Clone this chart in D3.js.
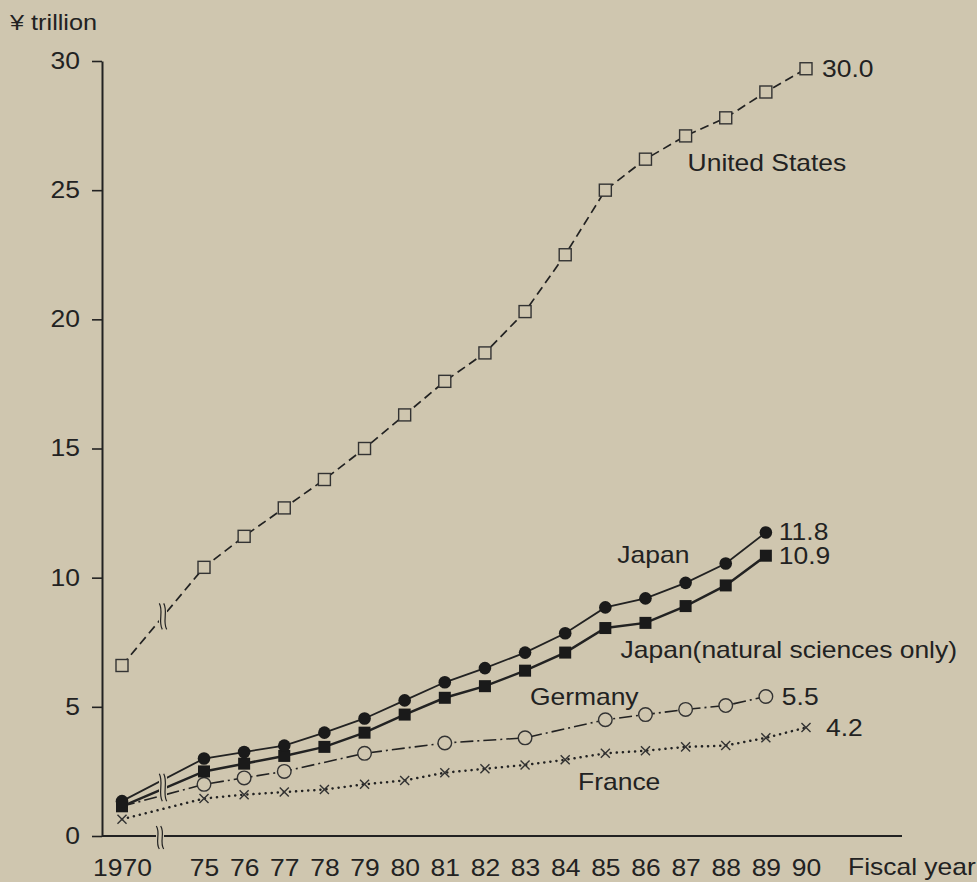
<!DOCTYPE html>
<html>
<head>
<meta charset="utf-8">
<script src="https://cdn.jsdelivr.net/npm/d3@7"></script>
<style>
  html, body { margin: 0; padding: 0; background: #d0c7b0; }
  svg { display: block; }
  text { font-family: "Liberation Sans", Arial, sans-serif; fill: #222; }
</style>
</head>
<body>
<svg id="chart" width="977" height="882"></svg>
<script>
// ---------------- data ----------------
const years = [1970, 1975, 1976, 1977, 1978, 1979, 1980, 1981, 1982, 1983, 1984, 1985, 1986, 1987, 1988, 1989, 1990];
const tickLabels = ["1970", "75", "76", "77", "78", "79", "80", "81", "82", "83", "84", "85", "86", "87", "88", "89", "90"];
const yTicks = [0, 5, 10, 15, 20, 25, 30];

const usValues      = [6.6, 10.4, 11.6, 12.7, 13.8, 15.0, 16.3, 17.6, 18.7, 20.3, 22.5, 25.0, 26.2, 27.1, 27.8, 28.8, 29.7];
const japanValues   = [1.35, 3.0, 3.25, 3.5, 4.0, 4.55, 5.25, 5.95, 6.5, 7.1, 7.85, 8.85, 9.2, 9.8, 10.55, 11.75, null];
const japanNSValues = [1.15, 2.5, 2.8, 3.1, 3.45, 4.0, 4.7, 5.35, 5.8, 6.4, 7.1, 8.05, 8.25, 8.9, 9.7, 10.85, null];
const germanyValues = [1.15, 2.0, 2.25, 2.5, null, 3.2, null, 3.6, null, 3.8, null, 4.5, 4.7, 4.9, 5.05, 5.4, null];
const franceValues  = [0.65, 1.45, 1.6, 1.7, 1.8, 2.0, 2.15, 2.45, 2.6, 2.75, 2.95, 3.2, 3.3, 3.45, 3.5, 3.8, 4.2];

const seriesNames = ["United States", "Japan", "Japan(natural sciences only)", "Germany", "France"];
const endLabels   = ["30.0", "11.8", "10.9", "5.5", "4.2"];
// name label anchors in data units [year, value]
const nameAnchors = [[1987.05, 25.75], [1985.3, 10.57], [1985.38, 6.89], [1983.12, 5.07], [1984.32, 1.78]];

// ---------------- setup ----------------
const BG = "#cfc6af";
const INK = "#222";
const SX = 1.15;      // horizontal stretch of the printed type
const FS = 23;

const svg = d3.select("#chart");
svg.append("rect").attr("width", 977).attr("height", 882).attr("fill", BG);

const x = d3.scaleLinear().domain([1970, 1975, 1990]).range([122, 204, 806]);
const y = d3.scaleLinear().domain([0, 30]).range([836, 61]);
const X0 = 102, XEND = 902;

function stretchText(sel) {
  sel.each(function () {
    const t = d3.select(this);
    const tx = +t.attr("x") || 0;
    t.attr("x", tx / SX).attr("transform", `scale(${SX},1)`);
  });
}
function label(txt, px, py, anchor, size) {
  svg.append("text")
    .attr("transform", `translate(${px},${py}) scale(${SX},1)`)
    .attr("text-anchor", anchor || "start")
    .attr("font-size", size || FS)
    .text(txt);
}

// ---------------- axes ----------------
const yAxis = svg.append("g").attr("transform", `translate(${X0},0)`)
  .call(d3.axisLeft(y).tickValues(yTicks).tickSize(10).tickSizeOuter(0).tickPadding(12));
yAxis.select(".domain").attr("stroke", INK).attr("stroke-width", 2);
yAxis.selectAll(".tick line").attr("stroke", INK).attr("stroke-width", 1.6);
yAxis.selectAll(".tick text").attr("font-size", FS).attr("font-family", "Liberation Sans, Arial, sans-serif").attr("fill", INK).call(stretchText);

// x axis baseline (drawn as a path along the zero line)
svg.append("path")
  .attr("d", d3.line()([[X0, y(0)], [XEND, y(0)]]))
  .attr("stroke", INK).attr("stroke-width", 2).attr("fill", "none");

const xAxis = svg.append("g").attr("transform", `translate(0,${y(0)})`)
  .call(d3.axisBottom(x).tickValues(years).tickFormat((d, i) => tickLabels[i]).tickSize(0).tickPadding(24));
xAxis.select(".domain").remove();
xAxis.selectAll(".tick text").attr("font-size", FS).attr("font-family", "Liberation Sans, Arial, sans-serif").attr("fill", INK).call(stretchText);

label("¥ trillion", 10, 30, "start", 22);
label("Fiscal year", 848, 875, "start", FS);

// ---------------- lines ----------------
const line = d3.line().x(d => x(d[0])).y(d => y(d[1]));
function pts(vals) { return years.map((yr, i) => [yr, vals[i]]).filter(d => d[1] != null); }

const styles = [
  { vals: usValues,      dash: "9,5",          w: 1.7, cap: "butt" },
  { vals: japanValues,   dash: null,           w: 1.8, cap: "butt" },
  { vals: japanNSValues, dash: null,           w: 2.5, cap: "butt" },
  { vals: germanyValues, dash: "13,4,2,4",     w: 1.6, cap: "butt" },
  { vals: franceValues,  dash: "0.1,6",        w: 2.5, cap: "round" }
];
styles.forEach(s => {
  svg.append("path").datum(pts(s.vals))
    .attr("d", line).attr("fill", "none")
    .attr("stroke", INK).attr("stroke-width", s.w)
    .attr("stroke-dasharray", s.dash).attr("stroke-linecap", s.cap);
});

// ---------------- break marks ----------------
const BRK = 1972.5;
function squiggle(cx, y0, y1) {
  const h = y1 - y0;
  const g = svg.append("g");
  g.append("rect").attr("x", cx - 4).attr("y", y0).attr("width", 8).attr("height", h).attr("fill", BG);
  [-2.2, 2.2].forEach(off => {
    const p = d3.path();
    p.moveTo(cx + off - 1.5, y0);
    p.bezierCurveTo(cx + off + 3, y0 + h * 0.3, cx + off - 3, y0 + h * 0.7, cx + off + 1.5, y1);
    g.append("path").attr("d", p.toString()).attr("fill", "none").attr("stroke", INK).attr("stroke-width", 1.2);
  });
}
// US line break
const usBrk = (usValues[0] + usValues[1]) / 2;
squiggle(x(BRK), y(usBrk) - 13, y(usBrk) + 13);
// lower group break
const lowTop = (japanValues[0] + japanValues[1]) / 2;
const lowBot = (germanyValues[0] + germanyValues[1]) / 2;
squiggle(x(BRK), y(lowTop) - 6, y(lowBot) + 6);
// axis break
squiggle(x(BRK) - 3, y(0) - 10, y(0) + 13);

// ---------------- markers ----------------
// France: crosses (drawn first, under the 1970 cluster)
const cross = d3.symbol().type(d3.symbolX).size(55);
svg.append("g").selectAll("path").data(pts(franceValues)).join("path")
  .attr("transform", d => `translate(${x(d[0])},${y(d[1])})`)
  .attr("d", cross).attr("fill", "none").attr("stroke", "#333").attr("stroke-width", 1.4);
// US: open squares
svg.append("g").selectAll("rect").data(pts(usValues)).join("rect")
  .attr("x", d => x(d[0]) - 6).attr("y", d => y(d[1]) - 6)
  .attr("width", 12).attr("height", 12)
  .attr("fill", BG).attr("stroke", "#333").attr("stroke-width", 1.4);
// Germany: open circles
svg.append("g").selectAll("circle").data(pts(germanyValues).slice(1)).join("circle")
  .attr("cx", d => x(d[0])).attr("cy", d => y(d[1])).attr("r", 6.8)
  .attr("fill", BG).attr("stroke", "#333").attr("stroke-width", 1.4);
// Japan NS: filled squares
svg.append("g").selectAll("rect").data(pts(japanNSValues)).join("rect")
  .attr("x", d => x(d[0]) - 6).attr("y", d => y(d[1]) - 6)
  .attr("width", 12).attr("height", 12).attr("fill", "#1a1a1a");
// Japan: filled circles
svg.append("g").selectAll("circle").data(pts(japanValues)).join("circle")
  .attr("cx", d => x(d[0])).attr("cy", d => y(d[1])).attr("r", 6.3)
  .attr("fill", "#1a1a1a");

// ---------------- labels ----------------
const endSeries = [usValues, japanValues, japanNSValues, germanyValues, franceValues];
const endOffsets = [16, 13, 13, 16, 20];
endSeries.forEach((vals, i) => {
  const p = pts(vals); const last = p[p.length - 1];
  label(endLabels[i], x(last[0]) + endOffsets[i], y(last[1]) + 8, "start", FS);
});
seriesNames.forEach((n, i) => {
  label(n, x(nameAnchors[i][0]), y(nameAnchors[i][1]), "start", FS);
});
</script>
</body>
</html>
